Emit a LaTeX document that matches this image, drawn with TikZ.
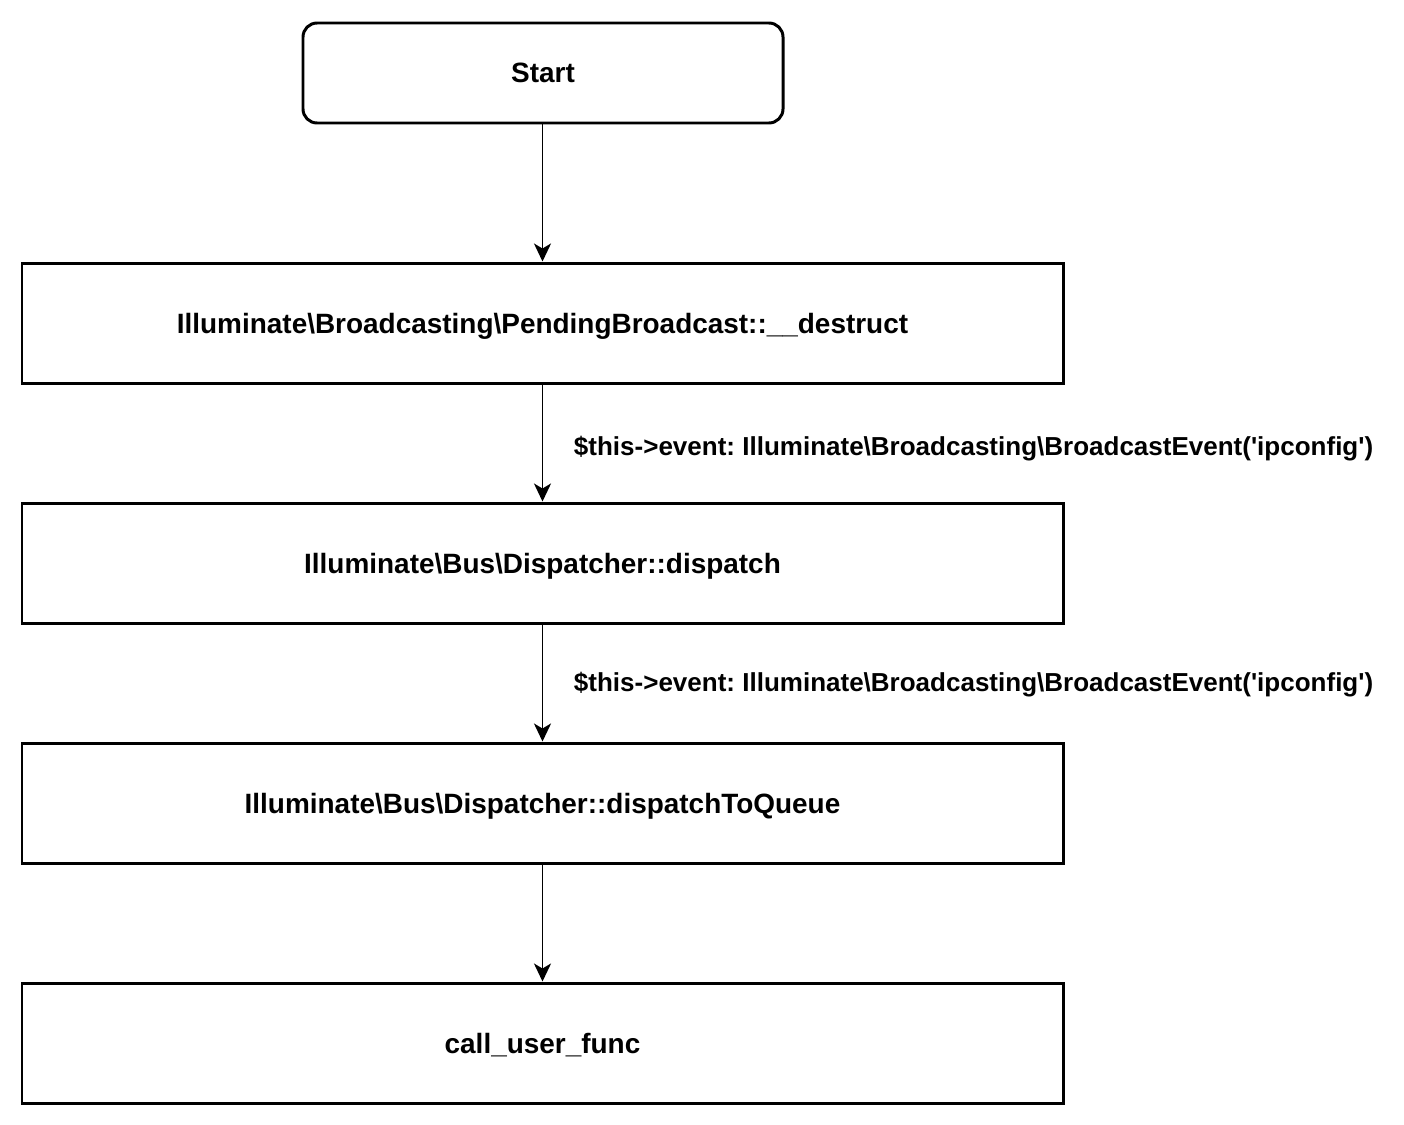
\documentclass[tikz,border=0pt]{standalone}
\usepackage{fontspec}
\setmainfont{Liberation Sans}
\usetikzlibrary{arrows.meta,positioning}
\tikzset{
  startbox/.style={draw=black,rounded corners=8pt,line width=1.7pt,minimum width=9.6cm,minimum height=2cm,align=center,text depth=0pt,font=\fontsize{15.9}{18}\selectfont\bfseries},
  stepbox/.style={draw=black,line width=1.7pt,minimum width=20.82cm,minimum height=2.4cm,align=center,text depth=0pt,font=\fontsize{15.9}{18}\selectfont\bfseries},
  flow/.style={-{Stealth[length=3.6mm,width=3.4mm,inset=1mm]},line width=1.1pt},
  edgelabel/.style={anchor=base west,inner sep=0pt,xshift=.61cm,font=\fontsize{14.8}{17}\selectfont\bfseries},
}
\frenchspacing
\newcommand{\bs}{\textbackslash}
\newcommand{\evtlabel}{\$this->event: Illuminate\bs Broadcasting\bs BroadcastEvent(\textquotesingle ipconfig\textquotesingle)}

\begin{document}
\begin{tikzpicture}
			\useasboundingbox (0,0) rectangle (28.08,-22.48);
			\node[startbox] (start) at (10.86,-1.46) {Start};
			\node[stepbox] (pending) at (10.85,-6.46) {Illuminate\bs Broadcasting\bs PendingBroadcast::\_\_destruct};
			\node[stepbox] (dispatch) at (10.85,-11.26) {Illuminate\bs Bus\bs Dispatcher::dispatch};
			\node[stepbox] (queue) at (10.85,-16.06) {Illuminate\bs Bus\bs Dispatcher::dispatchToQueue};
			\node[stepbox] (callfunc) at (10.85,-20.86) {call\_user\_func};
			\draw[flow] (start.south -| pending.north) -- (pending);
			\draw[flow] (pending) -- node[edgelabel,pos=.61]{\evtlabel} (dispatch);
			\draw[flow] (dispatch) -- node[edgelabel,pos=.575]{\evtlabel} (queue);
			\draw[flow] (queue) -- (callfunc);
		\end{tikzpicture}
\end{document}
